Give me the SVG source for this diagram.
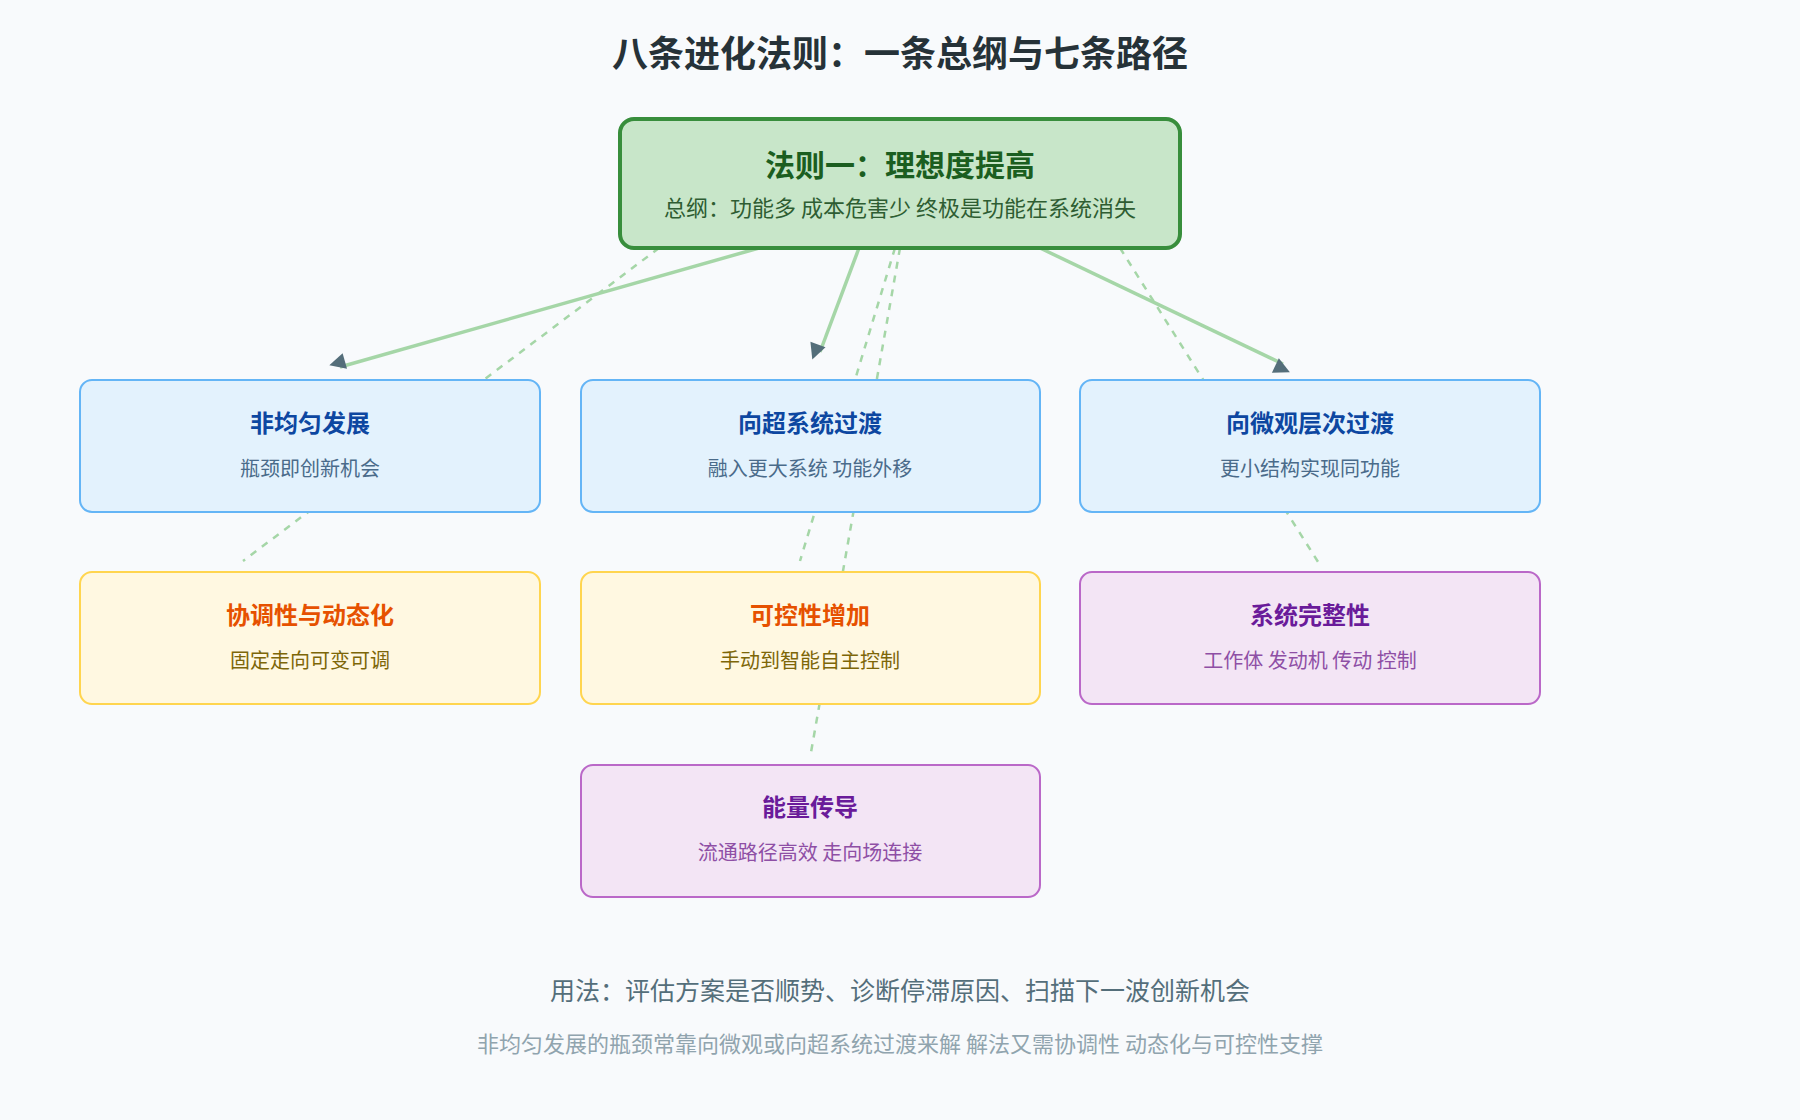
<svg xmlns="http://www.w3.org/2000/svg" width="1800" height="1120" viewBox="0 0 1800 1120">
<style>
text{font-family:"Noto Sans CJK SC","Noto Sans",sans-serif;text-anchor:middle}
.t{font-size:24px;font-weight:bold}
.s{font-size:20px}
.blue rect{fill:#e3f2fd;stroke:#64b5f6;stroke-width:2}
.blue .t{fill:#0d47a1}.blue .s{fill:#4a6b8a}
.yel rect{fill:#fff8e1;stroke:#ffd54f;stroke-width:2}
.yel .t{fill:#e65100}.yel .s{fill:#7d6608}
.pur rect{fill:#f3e5f5;stroke:#ba68c8;stroke-width:2}
.pur .t{fill:#6a1b9a}.pur .s{fill:#8e4fa5}
.sol{stroke:#a5d6a7;stroke-width:3.5;fill:none;marker-end:url(#ah)}
.dash{stroke:#a5d6a7;stroke-width:2.5;fill:none;stroke-dasharray:7 7}
</style>
<defs><marker id="ah" viewBox="0 0 10 10" refX="9" refY="5" markerWidth="7" markerHeight="7" markerUnits="userSpaceOnUse" orient="auto" style="overflow:visible"><path d="M0,0 L10,5 L0,10 z" fill="#546e7a" transform="scale(2.3) translate(-5,-5) translate(5,5)"/></marker></defs>
<rect width="1800" height="1120" fill="#f8fafc"/>
<text x="900" y="67" style="font-size:36px;font-weight:bold;fill:#263238">八条进化法则：一条总纲与七条路径</text>
<g id="connectors">
<line class="dash" x1="659" y1="248" x2="243" y2="561"/>
<line class="dash" x1="895" y1="248" x2="800" y2="561"/>
<line class="dash" x1="900" y1="248" x2="810" y2="758"/>
<line class="dash" x1="1120" y1="248" x2="1320" y2="565"/>
<line class="sol" x1="759" y1="248" x2="340" y2="367"/>
<line class="sol" x1="859" y1="248" x2="820" y2="352"/>
<line class="sol" x1="1040" y1="248" x2="1283" y2="364"/>
</g>
<g id="law1"><rect x="620" y="119" width="560" height="129" rx="14" fill="#c8e6c9" stroke="#388e3c" stroke-width="4"/>
<text x="900" y="176" style="font-size:30px;font-weight:bold;fill:#1b5e20">法则一：理想度提高</text>
<text x="900" y="216" style="font-size:22px;fill:#2e5d32">总纲：功能多 成本危害少 终极是功能在系统消失</text></g>
<g id="n1" class="blue"><rect x="80" y="380" width="460" height="132" rx="12"/><text class="t" x="310" y="432">非均匀发展</text><text class="s" x="310" y="476">瓶颈即创新机会</text></g>
<g id="n2" class="blue"><rect x="581" y="380" width="459" height="132" rx="12"/><text class="t" x="810" y="432">向超系统过渡</text><text class="s" x="810" y="476">融入更大系统 功能外移</text></g>
<g id="n3" class="blue"><rect x="1080" y="380" width="460" height="132" rx="12"/><text class="t" x="1310" y="432">向微观层次过渡</text><text class="s" x="1310" y="476">更小结构实现同功能</text></g>
<g id="n4" class="yel"><rect x="80" y="572" width="460" height="132" rx="12"/><text class="t" x="310" y="624">协调性与动态化</text><text class="s" x="310" y="668">固定走向可变可调</text></g>
<g id="n5" class="yel"><rect x="581" y="572" width="459" height="132" rx="12"/><text class="t" x="810" y="624">可控性增加</text><text class="s" x="810" y="668">手动到智能自主控制</text></g>
<g id="n6" class="pur"><rect x="1080" y="572" width="460" height="132" rx="12"/><text class="t" x="1310" y="624">系统完整性</text><text class="s" x="1310" y="668">工作体 发动机 传动 控制</text></g>
<g id="n7" class="pur"><rect x="581" y="765" width="459" height="132" rx="12"/><text class="t" x="810" y="816">能量传导</text><text class="s" x="810" y="860">流通路径高效 走向场连接</text></g>
<text x="900" y="1000" style="font-size:25px;fill:#546e7a">用法：评估方案是否顺势、诊断停滞原因、扫描下一波创新机会</text>
<text x="900" y="1052" style="font-size:22px;fill:#90a4ae">非均匀发展的瓶颈常靠向微观或向超系统过渡来解 解法又需协调性 动态化与可控性支撑</text>
</svg>
